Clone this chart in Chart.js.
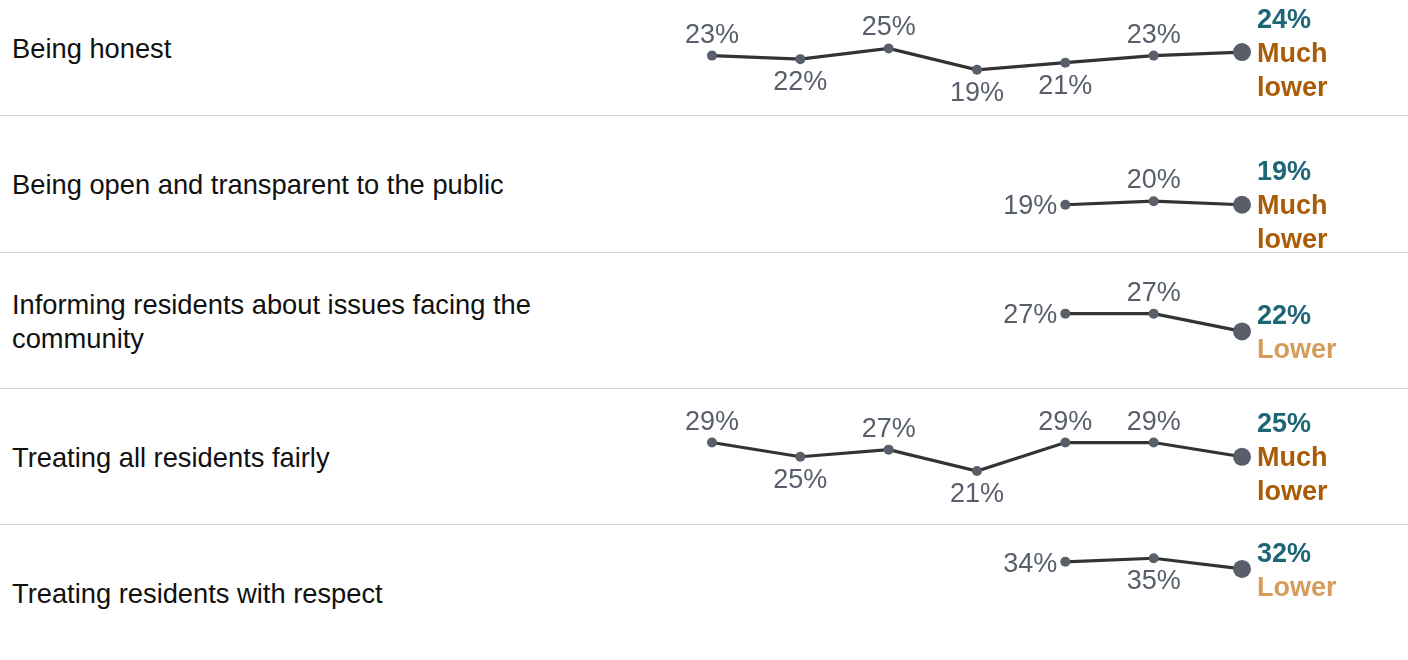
<!DOCTYPE html>
<html>
<head>
<meta charset="utf-8">
<script src="https://cdn.jsdelivr.net/npm/chart.js@4.4.0/dist/chart.umd.min.js"></script>
<style>
  body { margin: 0; background: #fff; overflow: hidden; font-family: "Liberation Sans", Arial, sans-serif; }
  #rows { position: relative; width: 1408px; height: 660px; overflow: hidden; }
  .row { position: absolute; left: 0; width: 1408px; }
  .divider { position: absolute; left: 0; width: 1408px; height: 1px; background: #d6d6d6; }
  .item { position: absolute; left: 12px; width: 560px; top: calc(50% + 2px); transform: translateY(-50%);
          font-size: 27.3px; line-height: 34px; color: #111; }
  .row canvas { position: absolute; left: 0; top: 0; }
</style>
</head>
<body>
<div id="rows"></div>
<script>
// Survey waves (x axis, not drawn)
const waves = ['W1', 'W2', 'W3', 'W4', 'W5', 'W6', 'W7'];

const items = [
    'Being honest',
    'Being open and transparent to the public',
    'Informing residents about issues facing the community',
    'Treating all residents fairly',
    'Treating residents with respect'
];

// % rating per wave
const honest     = [23, 22, 25, 19, 21, 23, 24];
const openness   = [null, null, null, null, 19, 20, 19];
const informing  = [null, null, null, null, 27, 27, 22];
const fairness   = [29, 25, 27, 21, 29, 29, 25];
const respect    = [null, null, null, null, 34, 35, 32];

const comparison = ['Much lower', 'Much lower', 'Lower', 'Much lower', 'Lower'];

const series = [honest, openness, informing, fairness, respect];

// where each value label sits relative to its point
const placement = [
    ['above', 'below', 'above', 'below', 'below', 'above'],
    [null, null, null, null, 'left', 'above'],
    [null, null, null, null, 'left', 'above'],
    ['above', 'below', 'above', 'below', 'above', 'above'],
    [null, null, null, null, 'left', 'below']
];

// top of each row's y axis
const axisTop = [42, 41.7, 41.8, 41.8, 42.1];

const FONT = '"Liberation Sans", Arial, sans-serif';
const comparisonColor = { 'Much lower': '#a85c08', 'Lower': '#d69c5c' };
const ROW_H = 136;
const Y_SPAN = ROW_H / 4.1;

const pointLabels = {
    id: 'pointLabels',
    afterDatasetsDraw(chart, args, opts) {
        const ctx = chart.ctx;
        const values = chart.data.datasets[0].data;
        const last = values.length - 1;
        ctx.save();
        chart.getDatasetMeta(0).data.forEach((pt, j) => {
            const v = values[j];
            if (v == null) return;
            const x = pt.x, y = pt.y;
            if (j === last) {
                // latest value plus its comparison, stacked to the right
                const words = opts.status.split(' ');
                const top = y - words.length * 17;
                ctx.font = 'bold 27px ' + FONT;
                ctx.textAlign = 'left';
                ctx.textBaseline = 'alphabetic';
                ctx.fillStyle = '#1c6676';
                ctx.fillText(v + '%', x + 15, top + 9.7);
                ctx.fillStyle = comparisonColor[opts.status];
                words.forEach((w, k) => ctx.fillText(w, x + 15, top + 34 * (k + 1) + 9.7));
                return;
            }
            ctx.font = '27px ' + FONT;
            ctx.fillStyle = '#585f6b';
            ctx.textBaseline = 'alphabetic';
            const where = opts.placement[j];
            if (where === 'left') {
                ctx.textAlign = 'right';
                ctx.fillText(v + '%', x - 8, y + 9.7);
            } else if (where === 'above') {
                ctx.textAlign = 'center';
                ctx.fillText(v + '%', x, y - 13);
            } else {
                ctx.textAlign = 'center';
                ctx.fillText(v + '%', x, y + 31);
            }
        });
        ctx.restore();
    }
};

const container = document.getElementById('rows');

items.forEach((item, i) => {
    const top = Math.round(-21 + i * 136.25);

    const row = document.createElement('div');
    row.className = 'row';
    row.style.top = top + 'px';
    row.style.height = ROW_H + 'px';

    const label = document.createElement('div');
    label.className = 'item';
    label.textContent = item;
    row.appendChild(label);

    const canvas = document.createElement('canvas');
    canvas.width = 1408;
    canvas.height = ROW_H;
    row.appendChild(canvas);
    container.appendChild(row);

    if (i > 0) {
        const line = document.createElement('div');
        line.className = 'divider';
        line.style.top = top + 'px';
        container.appendChild(line);
    }

    new Chart(canvas.getContext('2d'), {
        type: 'line',
        data: {
            labels: waves,
            datasets: [{
                data: series[i],
                borderColor: '#333333',
                borderWidth: 3.2,
                pointBackgroundColor: '#585f6b',
                pointBorderWidth: 0,
                pointRadius: ctx => ctx.dataIndex === waves.length - 1 ? 9 : 5,
                pointHoverRadius: ctx => ctx.dataIndex === waves.length - 1 ? 9 : 5,
                tension: 0,
                spanGaps: false,
                clip: false
            }]
        },
        options: {
            responsive: false,
            animation: false,
            events: [],
            layout: { padding: { left: 712, right: 166, top: 0, bottom: 0 } },
            scales: {
                x: { display: false, offset: false },
                y: { display: false, min: axisTop[i] - Y_SPAN, max: axisTop[i] }
            },
            plugins: {
                legend: { display: false },
                tooltip: { enabled: false },
                pointLabels: { status: comparison[i], placement: placement[i] }
            }
        },
        plugins: [pointLabels]
    });
});
</script>
</body>
</html>
